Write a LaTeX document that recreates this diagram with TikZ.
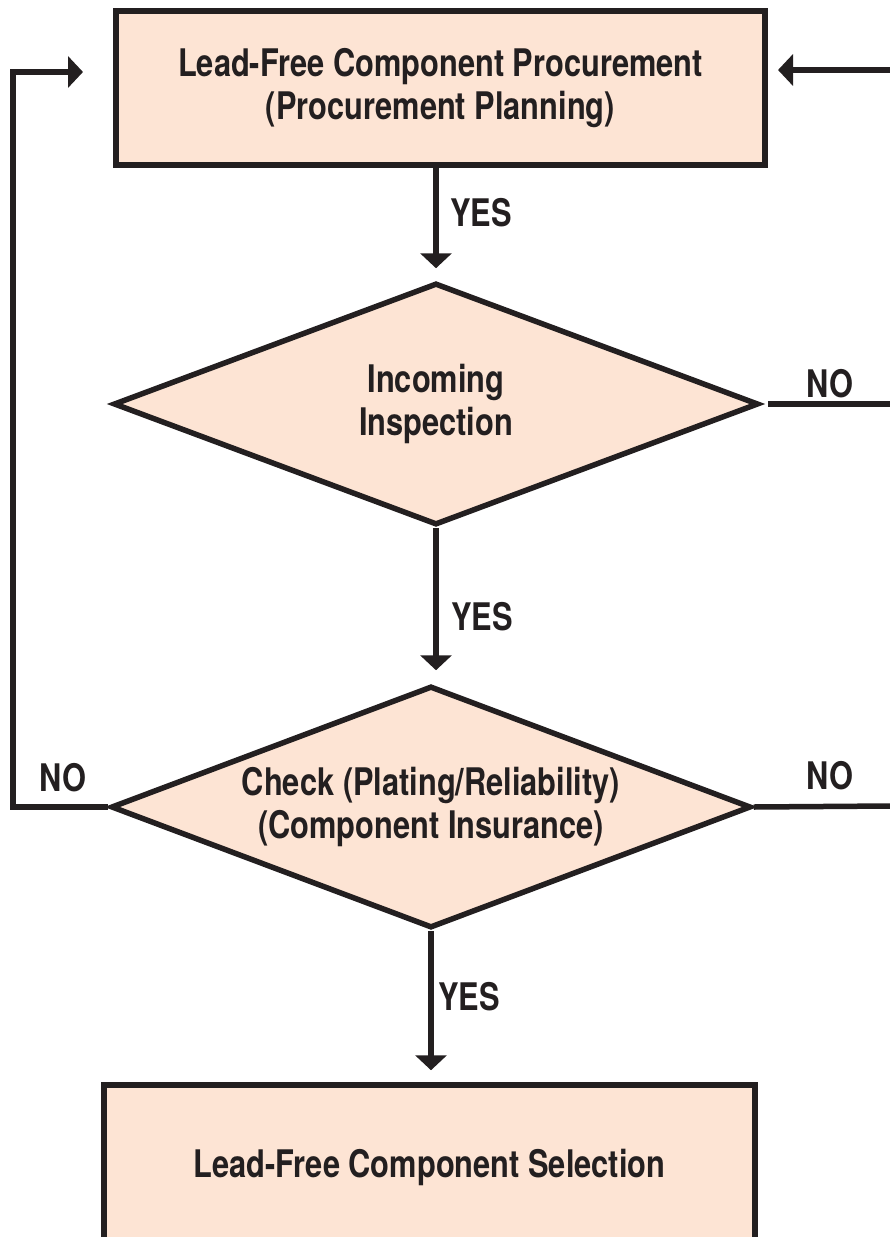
\documentclass[tikz,border=0pt]{standalone}
\usepackage{fontspec}
\setmainfont{TeX Gyre Heros}[FakeStretch=0.81]
\usetikzlibrary{shapes.geometric,arrows.meta}
\definecolor{ink}{HTML}{231F20}
\definecolor{peach}{HTML}{FDE4D4}
\begin{document}
\begin{tikzpicture}[x=1pt,y=-1pt,
  every node/.style={font=\fontsize{38}{43}\selectfont\bfseries, text=ink},
  procbox/.style={draw=ink, fill=peach, line width=5.5pt, rectangle, inner sep=0pt, align=center},
  decide/.style={draw=ink, fill=peach, line width=5.5pt, diamond, inner sep=0pt, align=center, aspect=2.64},
  conn/.style={draw=ink, line width=5.5pt, line join=miter},
  arr/.style={conn, -{Triangle[length=15pt,width=31pt]}},
  lbl/.style={inner sep=0pt}
]
\useasboundingbox (0,0) rectangle (890,1237);
\node[procbox, minimum width=649pt, minimum height=154pt] (top) at (440.5,88) {Lead-Free Component Procurement\\(Procurement Planning)};
\node[decide, minimum width=645pt, minimum height=242pt] (d1) at (436,404) {Incoming\\Inspection};
\node[decide, minimum width=640pt, minimum height=242pt] (d2) at (431,807) {Check (Plating/Reliability)\\(Component Insurance)};
\node[procbox, minimum width=651pt, minimum height=165pt] (bot) at (429.5,1167.5) {Lead-Free Component Selection};

\draw[arr, shorten >=12pt] (top.south -| d1.north) -- (d1.north);
\draw[arr, shorten >=13pt] (d1.south) -- (d1.south |- d2.north);
\draw[arr, shorten >=12pt] (d2.south) -- (d2.south |- bot.north);

\coordinate (lc) at (13,72);
\coordinate (la) at (83,72);
\draw[arr] (d2.west) -| (lc) -- (la);
\coordinate (rs) at (890,70);
\coordinate (ra) at (778,70);
\draw[arr] (rs) -- (ra);
\coordinate (n1s) at (768,404);
\coordinate (n1e) at (890,404);
\draw[conn] (n1s) -- (n1e);
\coordinate (n2e) at (890,806);
\draw[conn] (d2.east) -- (n2e);

\node[lbl] (y1) at (481,213) {YES};
\node[lbl] (y2) at (482,617) {YES};
\node[lbl] (y3) at (469,997) {YES};
\node[lbl] (no1) at (830,384) {NO};
\node[lbl] (no2) at (830,776) {NO};
\node[lbl] (no3) at (63,778) {NO};
\end{tikzpicture}
\end{document}
